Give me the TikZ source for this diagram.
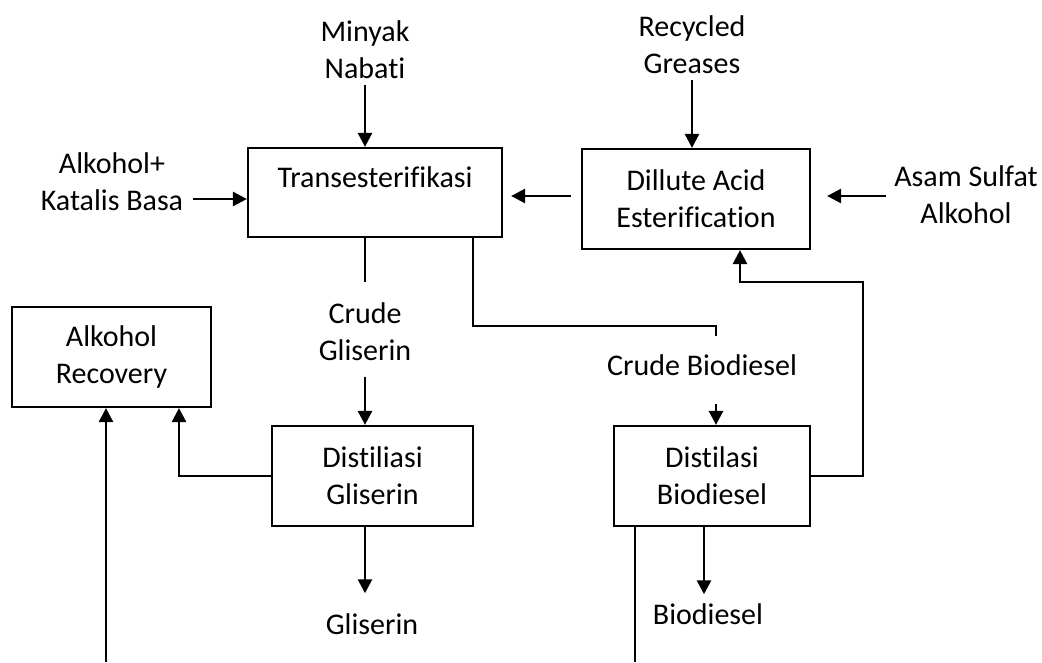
\documentclass[tikz,border=0pt]{standalone}
\usepackage{fontspec}
\setmainfont{Carlito}[Ligatures={NoCommon}]
\usetikzlibrary{arrows.meta, positioning, calc}

\tikzset{
  stepbox/.style={draw, line width=2.2pt, inner sep=0pt, align=center},
  lbl/.style={align=center, inner sep=0pt},
  ln/.style={line width=2.4pt},
  arr/.style={line width=2.6pt, -{Triangle[length=14pt,width=14pt]}},
}

\begin{document}
\begin{tikzpicture}[x=1pt, y=-1pt, font=\fontsize{30}{37}\selectfont]
    \useasboundingbox (0,0) rectangle (1042,662);

    % process boxes
    \node[stepbox, minimum width=254pt, minimum height=89pt, text height=20pt, text depth=31pt] (trans) at (375,192.5) {Transesterifikasi};
    \node[stepbox, minimum width=228pt, minimum height=100pt] (dae) at (696,199) {Dillute Acid\\Esterification};
    \node[stepbox, minimum width=199pt, minimum height=100pt] (recov) at (111.5,357) {Alkohol\\Recovery};
    \node[stepbox, minimum width=201pt, minimum height=100pt] (dgli) at (372.5,476) {Distiliasi\\Gliserin};
    \node[stepbox, minimum width=196pt, minimum height=100pt] (dbio) at (712,476) {Distilasi\\Biodiesel};

    % stream labels
    \node[lbl] (minyak) at (365,50) {Minyak\\Nabati};
    \node[lbl] (alk) at (112,182) {Alkohol+\\Katalis Basa};
    \node[lbl] (recycled) at (692,45) {Recycled\\Greases};
    \node[lbl] (asam) at (966,194.5) {Asam Sulfat\\Alkohol};
    \node[lbl] (crudegli) at (365,331.5) {Crude\\Gliserin};
    \node[lbl] (crudebio) at (702,365) {Crude Biodiesel};
    \node[lbl] (gliserin) at (372,624) {Gliserin};
    \node[lbl] (biodiesel) at (708,614) {Biodiesel};

    % feeds
    \draw[arr, shorten <=6pt] (minyak.south) -- (minyak.south |- trans.north);
    \draw[arr, shorten <=6pt] (recycled.south) -- (recycled.south |- dae.north);
    \draw[arr, shorten <=10pt] (alk.east |- 0,199) -- (trans.west |- 0,199);
    \draw[arr, shorten <=8pt, shorten >=16pt] (asam.west |- 0,196) -- (dae.east |- 0,196);
    \draw[arr, shorten <=10pt, shorten >=8pt] (dae.west |- 0,196) -- (trans.east |- 0,196);

    % glycerol side
    \draw[ln, shorten >=20pt] (trans.south -| crudegli) -- (crudegli.north);
    \draw[arr, shorten <=16pt] (crudegli.south) -- (crudegli.south |- dgli.north);
    \draw[arr, shorten >=20pt] (dgli.south -| 365,0) -- (gliserin.north -| 365,0);
    \draw[arr] (dgli.west) -| (recov.south -| 179,0);

    % biodiesel side
    \draw[ln, shorten >=18pt] (trans.south -| 473,0) |- (716,326) -- (crudebio.north -| 716,0);
    \draw[arr, shorten <=28pt] (crudebio.south -| 716,0) -- (dbio.north -| 716,0);
    \draw[arr, shorten >=9pt] (dbio.south -| 704,0) -- (biodiesel.north -| 704,0);
    \draw[arr] (dbio.east) -| (863,282) -| (dae.south -| 740,0);

    % lines leaving the bottom edge
    \coordinate (recin) at (106,662);
    \coordinate (dbioout) at (635,662);
    \draw[arr] (recin) -- (recin |- recov.south);
    \draw[ln] (dbio.south -| dbioout) -- (dbioout);
\end{tikzpicture}
\end{document}
